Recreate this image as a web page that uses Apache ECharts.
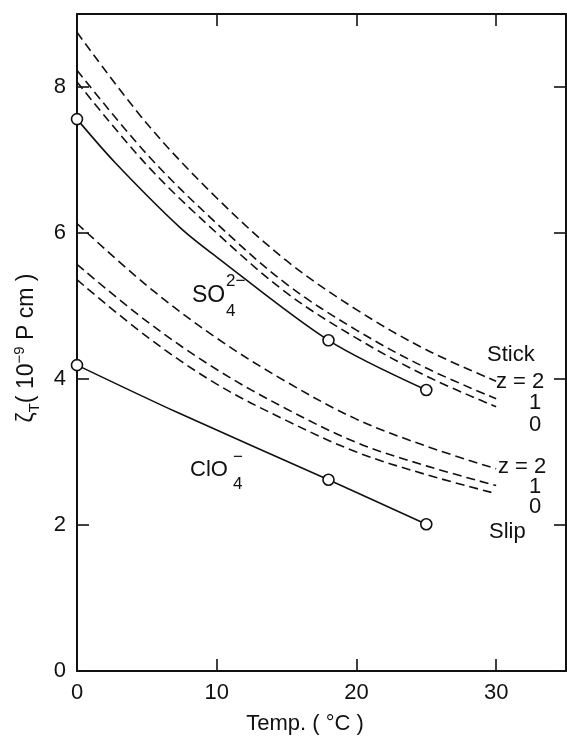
<!DOCTYPE html>
<html>
<head>
<meta charset="utf-8">
<script src="https://cdn.jsdelivr.net/npm/echarts@6/dist/echarts.min.js"></script>
<style>
html,body{margin:0;padding:0;background:#fff;}
#chart{width:567px;height:738px;}
</style>
</head>
<body>
<div id="chart"></div>
<script>
// ---- data ----
const xTicks = [0, 10, 20, 30];
const yTicks = [0, 2, 4, 6, 8];

// measured points (open circles)
const tempMeasured = [0, 18, 25];
const so4Measured = [7.56, 4.53, 3.85];
const clo4Measured = [4.19, 2.62, 2.01];

const so4CurveT = [0, 2.7, 7.4, 10, 18, 25];
const so4CurveV = [7.56, 6.97, 6.07, 5.67, 4.53, 3.85];
const clo4CurveT = [0, 7.2, 18, 25];
const clo4CurveV = [4.19, 3.54, 2.62, 2.01];

// dashed model curves (Stick / Slip, z = 2, 1, 0)
const modelT = [0, 5, 10, 15, 20, 25, 30];
const stickZ2 = [8.75, 7.50, 6.48, 5.62, 4.95, 4.40, 3.97];
const stickZ1 = [8.23, 7.08, 6.13, 5.30, 4.67, 4.15, 3.73];
const stickZ0 = [8.07, 6.93, 6.00, 5.18, 4.56, 4.04, 3.62];
const slipZ2  = [6.13, 5.28, 4.56, 3.96, 3.45, 3.08, 2.77];
const slipZ1  = [5.57, 4.79, 4.13, 3.59, 3.13, 2.81, 2.54];
const slipZ0  = [5.36, 4.58, 3.93, 3.43, 3.00, 2.69, 2.43];

// ---- build ----
const FF = '"Liberation Sans", Arial, sans-serif';
const ink = '#111';
const zip = (xs, ys) => xs.map((x, i) => [x, ys[i]]);

function dashed(name, vals) {
  return {
    name, type: 'line', data: zip(modelT, vals), smooth: 0.35, showSymbol: false,
    lineStyle: { color: ink, width: 1.6, type: [9, 5] }, silent: true, z: 2
  };
}
function solid(name, xs, ys) {
  return {
    name, type: 'line', data: zip(xs, ys), smooth: 0.3, showSymbol: false,
    lineStyle: { color: ink, width: 1.6 }, silent: true, z: 3
  };
}
function circles(name, ys) {
  return {
    name, type: 'scatter', data: zip(tempMeasured, ys), symbol: 'circle', symbolSize: 11,
    itemStyle: { color: '#fff', borderColor: ink, borderWidth: 1.6, opacity: 1 }, silent: true, z: 5
  };
}

const axisLineStyle = { show: true, onZero: false, lineStyle: { color: ink, width: 2 } };
const tickStyle = { show: true, inside: true, length: 12, lineStyle: { color: ink, width: 1.6 } };

function txt(text, x, y, size, align) {
  return {
    type: 'text', x, y, z: 10,
    style: { text, font: size + 'px ' + FF, fill: ink, textAlign: align || 'left', textVerticalAlign: 'middle' }
  };
}

const chart = echarts.init(document.getElementById('chart'), null, { renderer: 'canvas' });
chart.setOption({
  animation: false,
  backgroundColor: '#fff',
  grid: { left: 77, right: 1, top: 14, bottom: 67 },
  xAxis: [
    { type: 'value', min: xTicks[0], max: 35, interval: 10, position: 'bottom',
      axisLine: axisLineStyle, axisTick: tickStyle, splitLine: { show: false },
      axisLabel: { showMaxLabel: false, fontSize: 22, fontFamily: FF, color: ink, margin: 11 } },
    { type: 'value', min: 0, max: 35, interval: 10, position: 'top',
      axisLine: axisLineStyle, axisTick: tickStyle, splitLine: { show: false },
      axisLabel: { show: false } }
  ],
  yAxis: [
    { type: 'value', min: yTicks[0], max: 9, interval: 2, position: 'left',
      axisLine: axisLineStyle, axisTick: tickStyle, splitLine: { show: false },
      axisLabel: { showMaxLabel: false, fontSize: 22, fontFamily: FF, color: ink, margin: 11 } },
    { type: 'value', min: 0, max: 9, interval: 2, position: 'right',
      axisLine: axisLineStyle, axisTick: tickStyle, splitLine: { show: false },
      axisLabel: { show: false } }
  ],
  series: [
    dashed('stick z=2', stickZ2), dashed('stick z=1', stickZ1), dashed('stick z=0', stickZ0),
    dashed('slip z=2', slipZ2), dashed('slip z=1', slipZ1), dashed('slip z=0', slipZ0),
    solid('SO4 curve', so4CurveT, so4CurveV), solid('ClO4 curve', clo4CurveT, clo4CurveV),
    circles('SO4', so4Measured), circles('ClO4', clo4Measured)
  ],
  graphic: [
    // axis titles
    txt('Temp. ( °C )', 305, 724, 22, 'center'),
    { type: 'text', x: 27, y: 348, rotation: Math.PI / 2, z: 10,
      style: {
        text: '{a|ζ}{s|T}{a|( 10}{p|−9}{a| P cm )}',
        fill: ink, textAlign: 'center', textVerticalAlign: 'middle',
        rich: {
          a: { fontSize: 23, fontFamily: FF, lineHeight: 30, verticalAlign: 'middle', fill: ink, color: ink },
          s: { fontSize: 15, fontFamily: FF, lineHeight: 16, verticalAlign: 'bottom', fill: ink, color: ink },
          p: { fontSize: 15, fontFamily: FF, lineHeight: 16, verticalAlign: 'top', fill: ink, color: ink }
        }
      } },
    // SO4 2-
    txt('SO', 192, 296, 23),
    txt('2−', 226, 281, 17),
    txt('4', 226, 311, 17),
    // ClO4 -
    txt('ClO', 190, 470, 22),
    txt('−', 233, 457, 17),
    txt('4', 233, 484, 17),
    // stick labels
    txt('Stick', 487, 355, 22),
    txt('z = 2', 496, 382, 22),
    txt('1', 535, 403, 22, 'center'),
    txt('0', 535, 425, 22, 'center'),
    // slip labels
    txt('z = 2', 498, 467, 22),
    txt('1', 535, 487, 22, 'center'),
    txt('0', 535, 507, 22, 'center'),
    txt('Slip', 489, 532, 22)
  ]
});
</script>
</body>
</html>
